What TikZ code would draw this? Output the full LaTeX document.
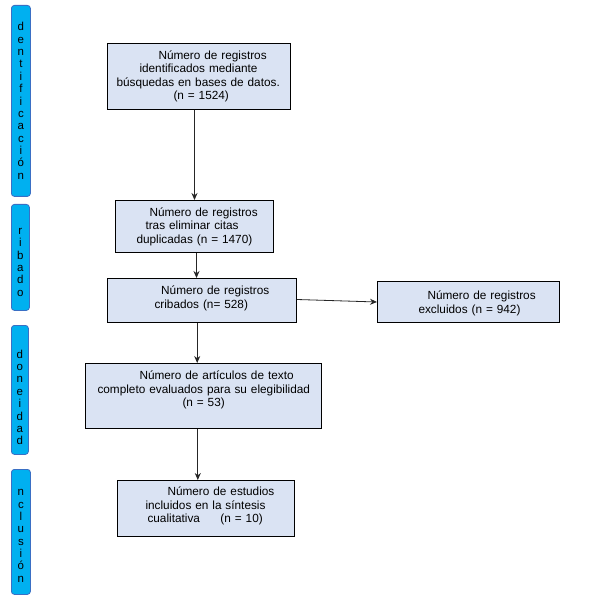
\documentclass[tikz,border=0pt]{standalone}
\usepackage{fontspec}
\setmainfont{Liberation Sans}
\usetikzlibrary{arrows.meta,calc}
\definecolor{boxfill}{HTML}{DAE3F3}
\definecolor{barfill}{HTML}{00B0F0}
\definecolor{barborder}{HTML}{3A6FC4}
\begin{document}
\begin{tikzpicture}[x=1pt,y=-1pt,
  box/.style={draw=black, line width=1pt, fill=boxfill, inner xsep=0pt, inner ysep=0pt,
    align=left, anchor=north west, font=\fontsize{11.8}{13.4}\selectfont},
  bar/.style={draw=barborder, line width=0.8pt, fill=barfill, rounded corners=3pt,
    inner xsep=0pt, inner ysep=0pt, align=center, anchor=north west,
    font=\fontsize{11.5}{12.36}\selectfont},
  arr/.style={-{Stealth[length=7pt,width=6pt]}, line width=0.8pt, draw=black!85}]
\useasboundingbox (0,0) rectangle (590,612);
% side bars
\node[bar, minimum width=19pt, text width=19pt, minimum height=191pt] (s1) at (11,5)
  {d\\e\\n\\t\\i\\f\\i\\c\\a\\c\\i\\ó\\n};
\node[bar, minimum width=18pt, text width=18pt, minimum height=106pt] (s2) at (11,204)
  {r\\i\\b\\a\\d\\o\par\kern-10pt};
\node[bar, minimum width=17pt, text width=17pt, minimum height=129pt] (s3) at (11,325)
  {d\\o\\n\\e\\i\\d\\a\\d\par\kern-15pt};
\node[bar, minimum width=19pt, text width=19pt, minimum height=125pt] (s4) at (11,469)
  {n\\c\\l\\u\\s\\i\\ó\\n\par\kern-8pt};
% boxes
\node[box, minimum width=183pt, text width=183pt, minimum height=66pt] (b1) at (107,43)
  {\hspace*{51pt}Número de registros\\
   \hspace*{32pt}identificados mediante\\
   \hspace*{9pt}búsquedas en bases de datos.\\
   \hspace*{66pt}(n = 1524)};
\node[box, minimum width=158pt, text width=158pt, minimum height=52pt] (b2) at (115,200)
  {\hspace*{34pt}Número de registros\\
   \hspace*{30pt}tras eliminar citas\\
   \hspace*{21pt}duplicadas (n = 1470)};
\node[box, minimum width=189pt, text width=189pt, minimum height=44pt] (b3) at (107,278)
  {\hspace*{53.7pt}Número de registros\\
   \hspace*{47pt}cribados (n= 528)\par\kern4pt};
\node[box, minimum width=182pt, text width=182pt, minimum height=41pt] (b4) at (377,281)
  {\hspace*{50pt}Número de registros\\
   \hspace*{41pt}excluidos (n = 942)\par\kern-3pt};
\node[box, minimum width=236pt, text width=236pt, minimum height=65pt] (b5) at (85,363)
  {\hspace*{54pt}Número de artículos de texto\\
   \hspace*{12pt}completo evaluados para su elegibilidad\\
   \hspace*{97pt}(n = 53)\par\kern12pt};
\node[box, minimum width=177pt, text width=177pt, minimum height=56pt] (b6) at (117,480)
  {\hspace*{50pt}Número de estudios\\
   \hspace*{28pt}incluidos en la síntesis\\
   \hspace*{30pt}cualitativa\hspace{20.5pt}(n = 10)\par\kern5pt};
% connectors
\draw[arr] ($(b1.south west)!0.475!(b1.south east)$) -- (b2.north);
\draw[arr] ($(b2.south)+(2,0)$) -- ($(b3.north)+(-5.5,0)$);
\draw[arr] ($(b3.east)+(0,-1)$) -- (b4.west);
\draw[arr] ($(b3.south)+(-4.8,0)$) -- ($(b5.north)+(-6.3,0)$);
\draw[arr] ($(b5.south)+(-5.7,0)$) -- ($(b6.north)+(-8.2,0)$);
\end{tikzpicture}
\end{document}
